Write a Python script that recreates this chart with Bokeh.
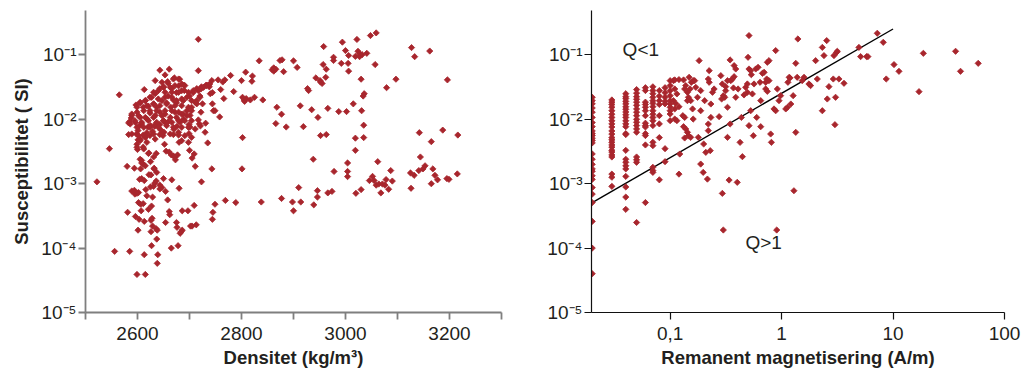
from bokeh.plotting import figure
from bokeh.layouts import row
from bokeh.models import Range1d, FixedTicker, CustomJSTickFormatter, Label
from bokeh.embed import file_html
from bokeh.resources import INLINE

# ---------------- data: left panel (density vs susceptibility) ----------------
dens_sparse = [2522, 2546, 2565, 2556, 2585, 2599, 2615, 2613, 2638, 2639, 2637, 2627, 2665, 2678,
               2581, 2601, 2596, 2603, 2580, 2583, 2583, 2588, 2589, 2595, 2599]
susc_sparse = [1.07e-3, 3.5e-3, 2.4e-2, 8.9e-5, 8.9e-5, 3.9e-5, 3.9e-5, 7.9e-5, 5.8e-5, 7.9e-5, 1.38e-4, 1.09e-4, 1.0e-4, 1.09e-4,
               3.6e-4, 1.9e-4, 3.1e-4, 2.8e-4, 1.86e-3, 5.8e-3, 8.8e-3, 1.05e-2, 7.7e-4, 6.9e-4, 7.1e-4]

dens_low = [2602, 2607, 2606, 2611, 2604, 2608, 2613, 2616, 2618, 2613, 2621, 2627, 2625, 2631,
            2629, 2626, 2628, 2629, 2626, 2636, 2638, 2633, 2643, 2647, 2654, 2658, 2661, 2662,
            2654, 2675, 2676, 2686, 2684, 2682, 2686, 2697, 2702, 2705, 2713, 2709, 2666, 2680]
susc_low = [5.1e-4, 3.8e-4, 4.8e-4, 4.9e-4, 1.17e-3, 1.2e-3, 1.12e-3, 8.1e-4, 6.5e-4, 2.6e-4, 4.0e-4, 4.5e-4, 8.9e-4, 9.1e-4,
            6.2e-4, 2.7e-4, 2.9e-4, 2.2e-4, 1.8e-4, 2.0e-4, 1.9e-4, 1.02e-3, 8.3e-4, 8.7e-4, 7.6e-4, 5.6e-4, 3.7e-4, 3.3e-4,
            2.5e-4, 2.5e-4, 2.1e-4, 1.9e-4, 1.8e-4, 1.7e-4, 3.8e-4, 3.8e-4, 2.2e-4, 2.2e-4, 2.3e-4, 4.6e-4, 1.15e-3, 8.5e-4]

dens_mid = [2606, 2611, 2608, 2615, 2594, 2622, 2632, 2625, 2631, 2636, 2621, 2611, 2600, 2599,
            2605, 2601, 2655, 2661, 2665, 2669, 2672, 2673, 2677, 2680, 2669, 2679, 2698, 2700,
            2711, 2723, 2705, 2649, 2652, 2643, 2651, 2645, 2629, 2624, 2615, 2620, 2603, 2608,
            2601, 2598, 2611, 2618, 2625, 2633, 2635, 2643, 2653, 2659, 2670, 2676, 2682, 2699,
            2701, 2719, 2721, 2717, 2730, 2735, 2743, 2801, 2802, 2699, 2731, 2709, 2626, 2637,
            2636, 2643, 2650, 2594, 2602, 2622, 2605, 2608, 2632]
susc_mid = [1.7e-3, 2.0e-3, 2.3e-3, 1.9e-3, 1.74e-3, 1.38e-3, 1.74e-3, 2.2e-3, 2.6e-3, 2.95e-3, 2.95e-3, 3.7e-3, 3.4e-3, 4.1e-3,
            4.9e-3, 4.8e-3, 3.2e-3, 3.1e-3, 2.8e-3, 2.7e-3, 2.6e-3, 2.35e-3, 2.8e-3, 4.4e-3, 5.8e-3, 5.7e-3, 4.4e-3, 3.3e-3,
            1.86e-3, 1.07e-3, 2.5e-3, 5.6e-3, 4.1e-3, 5.8e-3, 6.3e-3, 6.8e-3, 6.5e-3, 5.6e-3, 5.2e-3, 7.6e-3, 7.8e-3, 8.5e-3,
            6.7e-3, 5.9e-3, 5.7e-3, 6.2e-3, 8.0e-3, 7.8e-3, 8.5e-3, 8.3e-3, 9.0e-3, 9.2e-3, 7.0e-3, 7.8e-3, 9.0e-3, 8.3e-3,
            7.6e-3, 8.5e-3, 7.9e-3, 9.8e-3, 6.3e-3, 4.3e-3, 1.7e-3, 1.7e-3, 5.2e-3, 6.0e-3, 8.7e-3, 2.9e-3, 1.37e-3, 1.5e-3,
            1.1e-3, 9.5e-4, 1.2e-3, 7.9e-4, 7.3e-4, 3.0e-3, 2.4e-3, 2.1e-3, 1.7e-3]

dens_band = [2744, 2745, 2749, 2769, 2789, 2838, 2877, 2898, 2900, 2914, 2939, 2946, 2946, 2966,
             2974, 2910, 2938, 2978, 3004, 3004, 3004, 3020, 3030, 3019, 3046, 3052, 3055, 3059,
             3064, 3068, 3071, 3076, 3083, 3078, 3090, 3087, 3062]
susc_band = [2.8e-4, 3.6e-4, 4.8e-4, 5.5e-4, 5.1e-4, 5.2e-4, 5.9e-4, 5.2e-4, 3.8e-4, 5.2e-4, 4.7e-4, 6.2e-4, 7.8e-4, 7.2e-4,
             7.6e-4, 8.7e-4, 2.4e-3, 1.55e-3, 2.1e-3, 1.55e-3, 1.29e-3, 7.1e-4, 8.1e-4, 3.3e-3, 1.12e-3, 1.3e-3, 1.12e-3, 9.5e-4,
             9.9e-4, 7.2e-4, 9.9e-4, 9.5e-4, 8.2e-4, 1.16e-3, 1.1e-3, 1.6e-3, 2.2e-3]

dens_high = [3019, 3035, 3035, 3002, 3015, 3031, 3034, 3036, 3030, 2987, 2966, 2963, 2952, 2947,
             2935, 2919, 2913, 2929, 2927, 2943, 2952, 2955, 2951, 2962, 2963, 2957, 2958, 2977,
             2977, 2992, 2994, 3000, 3005, 3006, 3006, 3019, 3022, 3024, 3027, 3027, 3032, 3041,
             3048, 3059, 3057, 3079, 3097, 3127, 3133, 3162, 3196, 3142, 3187, 3216, 3165, 3144,
             3153, 3149, 3141, 3168, 3125, 3132, 3172, 3177, 3195, 3199, 3215, 3165, 3126]
susc_high = [5.1e-3, 5.2e-3, 8.1e-3, 1.32e-2, 1.74e-2, 1.36e-2, 2.3e-2, 2.5e-2, 4.2e-2, 1.32e-2, 1.48e-2, 5.8e-3, 5.6e-3, 1.07e-2,
             1.41e-2, 7.7e-3, 1.62e-2, 2.8e-2, 3.0e-2, 4.4e-2, 3.8e-2, 3.6e-2, 4.0e-2, 4.5e-2, 6.0e-2, 7.1e-2, 0.135, 9.2e-2,
             8.2e-2, 7.4e-2, 0.158, 0.117, 7.4e-2, 5.6e-2, 9.8e-2, 9.5e-2, 0.174, 0.114, 0.104, 0.094, 0.101, 0.106,
             0.20, 0.22, 7.1e-2, 3.1e-2, 4.2e-2, 0.13, 0.094, 0.115, 4.1e-2, 6.2e-3, 6.8e-3, 5.7e-3, 4.5e-3, 2.6e-3,
             1.9e-3, 1.7e-3, 1.6e-3, 1.7e-3, 1.47e-3, 1.35e-3, 1.35e-3, 1.15e-3, 1.2e-3, 1.17e-3, 1.42e-3, 1.0e-3, 8.5e-4]

dens_arm = [2886, 2866, 2877, 2868, 2841, 2825, 2817, 2805, 2806, 2809, 2802, 2785, 2766, 2758,
            2746, 2744, 2760, 2764, 2755, 2768, 2779, 2800, 2808, 2820, 2821, 2834, 2859, 2862,
            2862, 2866, 2874, 2878, 2881, 2900, 2907, 2717, 2717, 2661, 2643, 2743, 2738, 2740]
susc_arm = [7.6e-3, 8.6e-3, 1.2e-2, 1.54e-2, 2.0e-2, 2.2e-2, 2.0e-2, 2.0e-2, 1.9e-2, 2.1e-2, 2.2e-2, 2.7e-2, 2.1e-2, 1.09e-2,
            1.36e-2, 1.74e-2, 2.9e-2, 3.8e-2, 4.1e-2, 4.1e-2, 4.8e-2, 4.0e-2, 5.4e-2, 3.9e-2, 4.7e-2, 8.1e-2, 5.9e-2, 5.6e-2,
            6.3e-2, 6.0e-2, 8.2e-2, 8.4e-2, 5.5e-2, 8.1e-2, 6.4e-2, 0.175, 5.7e-2, 6.0e-2, 5.8e-2, 4.0e-2, 3.2e-2, 2.5e-2]

dens_core = [2613, 2634, 2653, 2671, 2681, 2659, 2650, 2643, 2666, 2679, 2689, 2690, 2675, 2659,
             2634, 2624, 2615, 2605, 2597, 2599, 2589, 2585, 2611, 2621, 2631, 2637, 2647, 2656,
             2669, 2675, 2688, 2700, 2707, 2714, 2723, 2732, 2744, 2736, 2720, 2714, 2725, 2704,
             2695, 2685, 2672, 2664, 2653, 2643, 2634, 2624, 2618, 2605, 2596, 2650, 2688, 2701,
             2749, 2722]
susc_core = [2.9e-2, 4.0e-2, 4.9e-2, 4.4e-2, 4.2e-2, 3.6e-2, 3.2e-2, 3.0e-2, 3.0e-2, 3.3e-2, 3.4e-2, 2.8e-2, 2.6e-2, 2.3e-2,
             2.5e-2, 2.2e-2, 1.95e-2, 1.8e-2, 1.67e-2, 1.29e-2, 1.15e-2, 9.2e-3, 1.54e-2, 1.6e-2, 1.74e-2, 1.54e-2, 1.95e-2, 1.8e-2,
             2.0e-2, 1.8e-2, 1.95e-2, 2.3e-2, 2.6e-2, 3.0e-2, 3.2e-2, 3.4e-2, 2.6e-2, 3.4e-2, 2.3e-2, 1.74e-2, 1.74e-2, 1.54e-2,
             1.36e-2, 1.2e-2, 1.29e-2, 1.54e-2, 1.2e-2, 1.29e-2, 1.15e-2, 1.25e-2, 1.02e-2, 1.07e-2, 8.9e-3, 9.5e-3, 1.0e-2, 1.15e-2,
             1.36e-2, 1.29e-2]

dens_core2 = [2647, 2658, 2669, 2679, 2685, 2691, 2672, 2663, 2650,
              2640, 2631, 2653, 2666, 2679, 2685, 2698, 2707, 2717, 2722, 2727, 2733, 2739,
              2627, 2640, 2653, 2666, 2675, 2685, 2695, 2704, 2714, 2720,
              2615, 2605, 2618, 2631, 2643, 2656, 2672, 2685, 2698, 2711,
              2599, 2612, 2624, 2637, 2653, 2666, 2679, 2688, 2704,
              2589, 2602, 2615, 2631, 2647, 2663, 2675, 2695,
              2595, 2608, 2621, 2637, 2650, 2666, 2679, 2691, 2704,
              2586, 2599, 2612, 2624, 2640, 2656, 2669, 2685, 2698, 2711,
              2589, 2602, 2615, 2631, 2647, 2663, 2679, 2691, 2605, 2618, 2634, 2685, 2704,
              2599, 2612]
susc_core2 = [0.0376, 0.0385, 0.0423, 0.0423, 0.0354, 0.0334, 0.0334, 0.0314, 0.0314,
              0.0279, 0.0263, 0.0263, 0.0263, 0.0263, 0.0279, 0.0263, 0.0279, 0.0279, 0.0296, 0.0314, 0.0334, 0.0354,
              0.022, 0.0207, 0.022, 0.022, 0.0195, 0.0207, 0.022, 0.0195, 0.0195, 0.022,
              0.0195, 0.0184, 0.0163, 0.0173, 0.0163, 0.0173, 0.0163, 0.0163, 0.0154, 0.0184,
              0.0154, 0.0136, 0.0136, 0.0136, 0.0136, 0.0136, 0.0129, 0.0121, 0.0136,
              0.0121, 0.0114, 0.0107, 0.0107, 0.0114, 0.0107, 0.0107, 0.0114,
              0.00953, 0.00898, 0.00953, 0.00898, 0.00953, 0.00898, 0.00953, 0.00953, 0.00953,
              0.00846, 0.00751, 0.00751, 0.00751, 0.00751, 0.00798, 0.00751, 0.00751, 0.00751, 0.00708,
              0.00592, 0.00557, 0.00557, 0.00592, 0.00592, 0.00592, 0.00628, 0.00557, 0.00466, 0.00439, 0.00494, 0.00466, 0.00525,
              0.00367, 0.00346]

# ---------------- data: right panel (remanence vs susceptibility) ----------------
rem_c002 = [0.02] * 27
sus_c002 = [2.2e-2, 1.95e-2, 1.74e-2, 1.5e-2, 1.29e-2, 1.07e-2, 8.9e-3, 7.7e-3, 6.6e-3, 6.0e-3, 5.6e-3, 5.1e-3, 4.7e-3, 4.3e-3,
            2.9e-3, 2.4e-3, 2.0e-3, 1.7e-3, 1.56e-3, 1.33e-3, 1.17e-3, 8.7e-4, 6.9e-4, 5.1e-4, 2.6e-4, 1.0e-4, 4.0e-5]
rem_c003 = [0.03] * 24
sus_c003 = [2.0e-2, 1.85e-2, 1.7e-2, 1.54e-2, 1.36e-2, 1.2e-2, 1.07e-2, 9.5e-3, 8.5e-3, 7.6e-3, 6.6e-3, 5.9e-3, 5.2e-3, 4.8e-3,
            4.4e-3, 4.0e-3, 3.7e-3, 3.3e-3, 3.1e-3, 2.8e-3, 2.6e-3, 1.41e-3, 1.26e-3, 9.1e-4]
rem_c004 = [0.04] * 24
sus_c004 = [2.5e-2, 2.25e-2, 2.1e-2, 1.9e-2, 1.74e-2, 1.57e-2, 1.43e-2, 1.3e-2, 1.18e-2, 1.07e-2, 9.5e-3, 8.5e-3, 7.7e-3, 6.0e-3,
            5.8e-3, 3.3e-3, 2.4e-3, 2.15e-3, 1.9e-3, 1.7e-3, 1.3e-3, 8.9e-4, 6.2e-4, 4.0e-4]
rem_c005 = [0.05] * 18
sus_c005 = [2.9e-2, 2.55e-2, 2.25e-2, 2.05e-2, 1.85e-2, 1.65e-2, 1.45e-2, 1.29e-2, 1.14e-2, 1.0e-2, 9.0e-3, 8.0e-3, 7.1e-3, 6.3e-3,
            2.6e-3, 2.35e-3, 2.15e-3, 2.5e-4]
rem_c006 = [0.06] * 14
sus_c006 = [3.1e-2, 2.8e-2, 1.85e-2, 1.7e-2, 1.54e-2, 1.36e-2, 1.14e-2, 8.7e-3, 8.0e-3, 7.6e-3, 6.0e-3, 5.6e-3, 4.0e-3, 5.1e-4]
rem_c007 = [0.07] * 17
sus_c007 = [3.2e-2, 2.8e-2, 2.5e-2, 2.2e-2, 1.95e-2, 1.77e-2, 1.57e-2, 1.36e-2, 1.2e-2, 1.07e-2, 9.5e-3, 8.0e-3, 4.4e-3, 3.9e-3,
            1.8e-3, 1.6e-3, 1.5e-3]
rem_c008 = [0.08] * 8
sus_c008 = [2.8e-2, 2.3e-2, 1.95e-2, 1.7e-2, 1.14e-2, 8.5e-3, 5.2e-3, 1.15e-3]
rem_c009 = [0.09] * 7
sus_c009 = [3.1e-2, 2.6e-2, 2.2e-2, 1.9e-2, 1.74e-2, 3.5e-3, 2.2e-3]
rem_c010 = [0.1] * 10
sus_c010 = [0.0399, 0.0334, 0.0279, 0.0233, 0.0195, 0.0173, 0.0154, 0.0136, 0.0121, 0.00953]

rem_scatter = [0.107, 0.11, 0.12, 0.11, 0.115, 0.107, 0.112, 0.11, 0.12, 0.11, 0.115, 0.13, 0.12, 0.122,
               0.135, 0.138, 0.143, 0.146, 0.151, 0.155, 0.161, 0.148, 0.132, 0.138, 0.132, 0.143, 0.153, 0.135,
               0.146, 0.135, 0.143, 0.153, 0.159, 0.161, 0.166, 0.17, 0.176, 0.182, 0.188, 0.188, 0.179, 0.188,
               0.198, 0.2, 0.216, 0.209, 0.229, 0.22, 0.22, 0.232, 0.232, 0.204, 0.224, 0.22, 0.224, 0.24,
               0.248, 0.275, 0.285, 0.294, 0.30, 0.29, 0.309, 0.315, 0.315, 0.327, 0.327, 0.345, 0.35, 0.362,
               0.375, 0.388, 0.375, 0.37, 0.388, 0.407, 0.424, 0.436, 0.445, 0.40, 0.338, 0.294, 0.30, 0.327,
               0.345, 0.46, 0.476, 0.493, 0.50, 0.51, 0.51, 0.528, 0.535, 0.493, 0.51, 0.528, 0.547, 0.558,
               0.566, 0.586, 0.598, 0.615, 0.641, 0.65, 0.65, 0.673, 0.697, 0.72, 0.72, 0.745, 0.745, 0.771,
               0.771, 0.798, 0.81, 0.855, 0.885, 0.885, 0.916, 0.735, 0.948, 0.98, 1.09, 1.13, 1.14, 1.17,
               1.19, 1.21, 1.27, 1.29, 1.34, 1.34, 1.38, 1.40, 1.53, 1.59, 1.76, 1.82, 2.02, 2.09,
               2.32, 2.32, 2.40, 2.54, 2.57, 2.66, 2.91, 2.95, 3.05, 3.01, 3.12, 3.16, 3.27, 3.63,
               4.94, 5.12, 5.79, 5.95, 7.22, 8.17, 8.69, 10.2, 11.3, 17.1, 18.7, 36.4, 40.3, 58.1, 0.904]
sus_scatter = [0.040, 0.0409, 0.0414, 0.0296, 0.0248, 0.0195, 0.0177, 0.0145, 0.0157, 0.0101, 0.00953, 0.0114, 0.00141, 0.00289,
               0.0296, 0.0334, 0.0263, 0.022, 0.0296, 0.0376, 0.0399, 0.045, 0.0409, 0.00708, 0.00769, 0.00628, 0.00525, 0.00513,
               0.00557, 0.0107, 0.0195, 0.0195, 0.0145, 0.0101, 0.0399, 0.0314, 0.022, 0.0816, 0.0279, 0.0136, 0.00525, 0.00202,
               0.0015, 0.00414, 0.00118, 0.00307, 0.00326, 0.00846, 0.00667, 0.0107, 0.0173, 0.0195, 0.057, 0.0423, 0.0376, 0.0263,
               0.0296, 0.011, 0.0477, 0.0354, 0.0233, 0.0207, 0.022, 0.0279, 0.0322, 0.0154, 0.0399, 0.0836, 0.0399, 0.0423,
               0.0683, 0.0605, 0.046, 0.0307, 0.022, 0.0296, 0.00439, 0.0107, 0.00263, 0.00105, 0.00114, 0.000708, 0.000191, 0.00525,
               0.00846, 0.0239, 0.0314, 0.0354, 0.092, 0.20, 0.0605, 0.057, 0.0494, 0.0263, 0.00798, 0.0136, 0.0248, 0.00557,
               0.0354, 0.0605, 0.0107, 0.0643, 0.0376, 0.0195, 0.00769, 0.0519, 0.0538, 0.0376, 0.0296, 0.0272, 0.0769, 0.0816,
               0.0399, 0.00592, 0.00439, 0.0145, 0.0136, 0.117, 0.0296, 0.0423, 0.0195, 0.0233, 0.0145, 0.0154, 0.0376, 0.045,
               0.0439, 0.0173, 0.0233, 0.000778, 0.0741, 0.00628, 0.045, 0.177, 0.0399, 0.045, 0.0354, 0.0334, 0.0816, 0.0423,
               0.131, 0.0136, 0.0977, 0.167, 0.0207, 0.0322, 0.0423, 0.0977, 0.022, 0.00826, 0.11, 0.114, 0.0423, 0.0363,
               0.131, 0.0942, 0.0942, 0.0942, 0.217, 0.157, 0.0423, 0.0708, 0.0557, 0.0269, 0.106, 0.114, 0.0557, 0.0741, 0.000191]

# Q = 1 reference line
q_line_rem = [0.02, 10]
q_line_sus = [5.1e-4, 0.253]

y_ticks = [1e-5, 1e-4, 1e-3, 1e-2, 1e-1]
dens_ticks = [2600, 2800, 3000, 3200]
dens_minor = [2500, 2700, 2900, 3100, 3300]
rem_ticks = [0.1, 1, 10, 100]

# ---------------- styling ----------------
RED = "#a8262d"
FONT = "Liberation Sans"
TXT = "#231f20"

sup_js = """
const sup = {'-':'\u207b','0':'\u2070','1':'\u00b9','2':'\u00b2','3':'\u00b3','4':'\u2074','5':'\u2075','6':'\u2076','7':'\u2077','8':'\u2078','9':'\u2079'};
const e = Math.round(Math.log10(tick));
return '10' + String(e).split('').map(c => sup[c]).join('');
"""

def style_axes(p, color, width):
    p.grid.visible = False
    p.outline_line_color = None
    p.background_fill_color = "white"
    p.border_fill_color = "white"
    for ax in (p.xaxis[0], p.yaxis[0]):
        ax.axis_line_color = color
        ax.axis_line_width = width
        ax.major_tick_line_color = color
        ax.major_tick_line_width = width
        ax.minor_tick_line_color = color
        ax.minor_tick_line_width = width
        ax.major_tick_in = 0
        ax.major_tick_out = 7
        ax.minor_tick_in = 0
        ax.minor_tick_out = 7
        ax.major_label_text_font = FONT
        ax.major_label_text_font_size = "19px"
        ax.major_label_text_color = TXT
        ax.axis_label_text_font = FONT
        ax.axis_label_text_font_size = "18.5px"
        ax.axis_label_text_font_style = "bold"
        ax.axis_label_text_color = TXT
    p.yaxis[0].ticker = FixedTicker(ticks=y_ticks, minor_ticks=[])
    p.yaxis[0].formatter = CustomJSTickFormatter(code=sup_js)
    p.yaxis[0].major_label_standoff = 2
    p.xaxis[0].major_label_standoff = 7
    p.xaxis[0].axis_label_standoff = 4

def add_points(p, xs, ys):
    p.scatter(xs, ys, marker="square", angle=0.785398, size=4.4,
              fill_color=RED, line_color=RED, line_width=0.8)

# ---------------- left figure ----------------
p1 = figure(width=513, height=376, y_axis_type="log",
            x_range=Range1d(2500, 3300), y_range=Range1d(1e-5, 0.49),
            output_backend="svg", toolbar_location=None,
            min_border_left=85, min_border_right=12, min_border_top=10, min_border_bottom=64)
style_axes(p1, "#7f7f7f", 1.8)
p1.xaxis[0].ticker = FixedTicker(ticks=dens_ticks, minor_ticks=dens_minor)
p1.xaxis.axis_label = "Densitet (kg/m\u00b3)"
p1.yaxis.axis_label = "Susceptibilitet ( SI)"
p1.yaxis[0].axis_label_standoff = 6

for dx, sy in [(dens_sparse, susc_sparse), (dens_low, susc_low), (dens_mid, susc_mid),
               (dens_band, susc_band), (dens_high, susc_high), (dens_arm, susc_arm),
               (dens_core, susc_core), (dens_core2, susc_core2)]:
    add_points(p1, dx, sy)

# ---------------- right figure ----------------
p2 = figure(width=513, height=376, x_axis_type="log", y_axis_type="log",
            x_range=Range1d(0.0197, 100), y_range=Range1d(1e-5, 0.49),
            output_backend="svg", toolbar_location=None,
            min_border_left=78, min_border_right=22, min_border_top=10, min_border_bottom=64)
style_axes(p2, "#111111", 1.2)
p2.xaxis[0].ticker = FixedTicker(ticks=rem_ticks, minor_ticks=[])
p2.xaxis[0].formatter = CustomJSTickFormatter(
    code="return tick < 1 ? tick.toFixed(1).replace('.', ',') : tick.toFixed(0);")
p2.xaxis.axis_label = "Remanent magnetisering (A/m)"

p2.line(q_line_rem, q_line_sus, line_color="black", line_width=1.4)
for rx, sy in [(rem_c002, sus_c002), (rem_c003, sus_c003), (rem_c004, sus_c004), (rem_c005, sus_c005),
               (rem_c006, sus_c006), (rem_c007, sus_c007), (rem_c008, sus_c008), (rem_c009, sus_c009),
               (rem_c010, sus_c010), (rem_scatter, sus_scatter)]:
    add_points(p2, rx, sy)

for txt, xx, yy in [("Q<1", 0.0546, 0.121), ("Q>1", 0.69, 1.21e-4)]:
    p2.add_layout(Label(x=xx, y=yy, text=txt, text_font=FONT, text_font_size="19px",
                        text_color=TXT, text_align="center", text_baseline="middle"))

layout = row(p1, p2)
open("out.html", "w").write(file_html(layout, INLINE))
